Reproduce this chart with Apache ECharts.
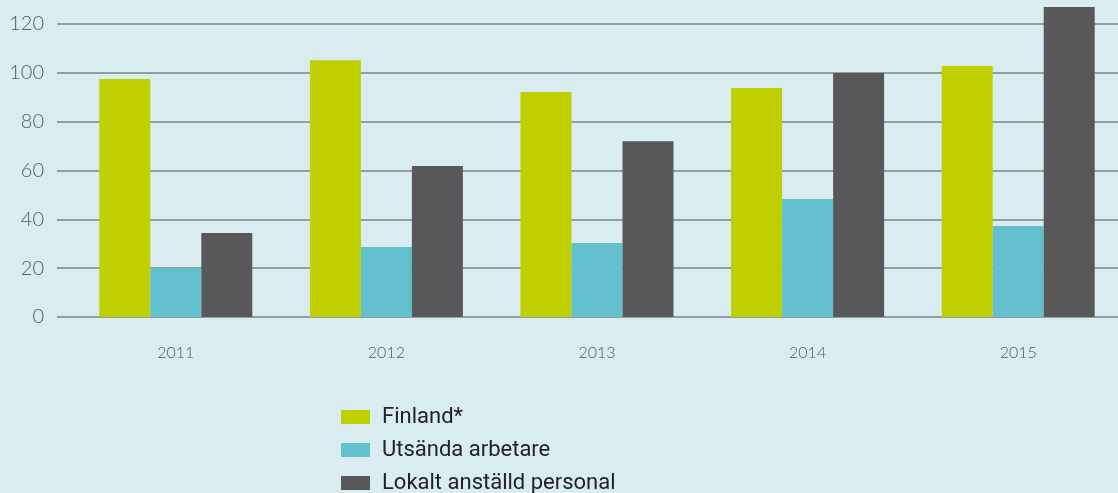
<!DOCTYPE html>
<html>
<head>
<meta charset="utf-8">
<script src="https://cdn.jsdelivr.net/npm/echarts@6/dist/echarts.min.js"></script>
<style>
html, body { margin: 0; padding: 0; background: #d9edf0; }
#main { width: 1118px; height: 493px; }
</style>
</head>
<body>
<div id="main"></div>
<script>
var years = ['2011', '2012', '2013', '2014', '2015'];
var finland = [97.5, 105.2, 92.1, 93.8, 102.8];
var utsanda = [20, 28.7, 30.3, 48.3, 37.3];
var lokalt = [34.4, 61.8, 72, 99.9, 127];

var myChart = echarts.init(document.getElementById('main'));

var gridLine = { show: true, lineStyle: { color: '#939ea0', width: 2 } };

option = {
    backgroundColor: '#d9edf0',
    animation: false,
    grid: [
        { left: 70.5, width: 1053, top: 24, bottom: 176, outerBoundsMode: 'none' },
        // short stub so the grid lines start a bit left of the first group
        { left: 57, width: 14, top: 24, bottom: 176, outerBoundsMode: 'none' }
    ],
    legend: {
        orient: 'vertical',
        left: 336,
        top: 401,
        height: 120,
        itemWidth: 29,
        itemHeight: 14,
        itemGap: 11,
        icon: 'rect',
        textStyle: { fontFamily: 'Roboto', fontSize: 22, color: '#222', padding: [0, 0, 0, 7] },
        data: ['Finland*', 'Utsända arbetare', 'Lokalt anställd personal']
    },
    xAxis: [
        {
            type: 'category',
            gridIndex: 0,
            data: years,
            axisLine: { show: false },
            axisTick: { show: false },
            axisLabel: { margin: 28, fontFamily: 'Lato', fontWeight: 300, fontSize: 16, color: '#555' }
        },
        { type: 'category', gridIndex: 1, data: [''], show: false }
    ],
    yAxis: [
        {
            type: 'value',
            gridIndex: 0,
            min: 0,
            max: 120,
            interval: 20,
            axisLine: { show: false },
            axisTick: { show: false },
            axisLabel: { show: false },
            splitLine: gridLine
        },
        {
            type: 'value',
            gridIndex: 1,
            min: 0,
            max: 120,
            interval: 20,
            axisLine: { show: false },
            axisTick: { show: false },
            axisLabel: { margin: 13, fontFamily: 'Lato', fontWeight: 300, fontSize: 20, color: '#5a5a5a' },
            splitLine: gridLine
        }
    ],
    series: [
        {
            name: 'Finland*', type: 'bar', barWidth: 51, barGap: '0%', clip: false,
            itemStyle: { color: '#c0cf00' }, data: finland
        },
        {
            name: 'Utsända arbetare', type: 'bar', barWidth: 51, clip: false,
            itemStyle: { color: '#62c0cf' }, data: utsanda
        },
        {
            name: 'Lokalt anställd personal', type: 'bar', barWidth: 51, clip: false,
            itemStyle: { color: '#58585a' }, data: lokalt
        }
    ]
};

myChart.setOption(option);
</script>
</body>
</html>
